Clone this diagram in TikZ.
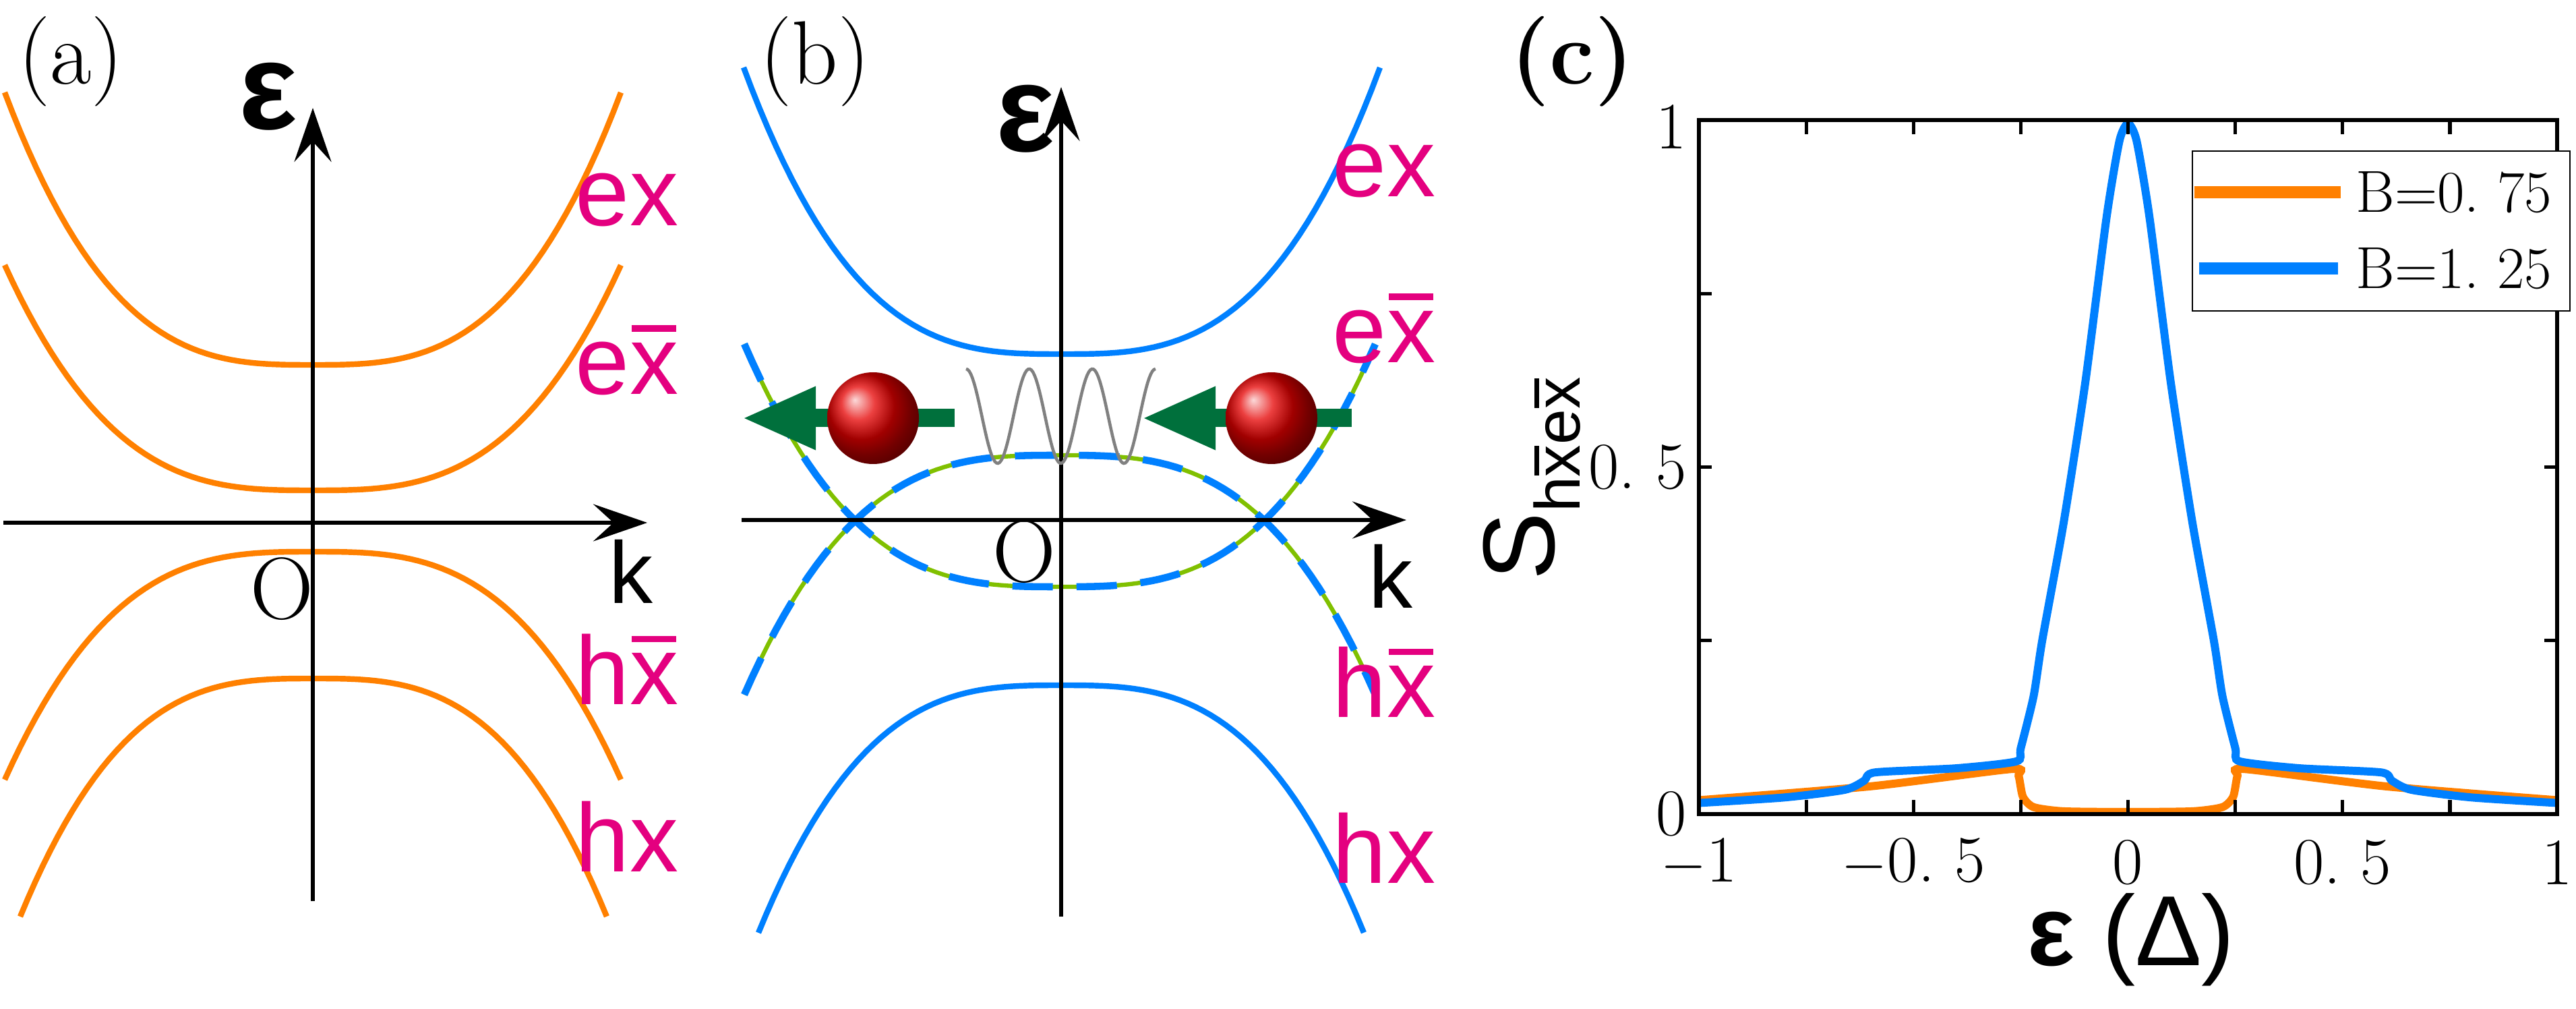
\documentclass[tikz,border=0pt]{standalone}
\usepackage{fontspec}
\usetikzlibrary{arrows.meta}
\newfontfamily\arialfont{Liberation Sans}
\definecolor{bandorange}{HTML}{FF8000}
\definecolor{bandblue}{HTML}{0080FF}
\definecolor{bandgreen}{HTML}{80C000}
\definecolor{labelpink}{HTML}{E4007F}
\definecolor{spingreen}{HTML}{00703C}
\newcommand{\xb}{\leavevmode\rlap{\kern0.02em\raisebox{0.64em}{\rule{0.46em}{0.065em}}}x}

\begin{document}
\begin{tikzpicture}[
  orangeband/.style={bandorange, line width=2.4pt},
  blueband/.style={bandblue, line width=2.4pt},
  greenband/.style={bandgreen, line width=1.8pt},
  bluedash/.style={bandblue, line width=3pt, dash pattern=on 0.6cm off 0.35cm},
  kaxis/.style={line width=1.7pt, -{Stealth[length=0.8cm, width=0.55cm, inset=0.3cm]}},
  bandlabel/.style={labelpink, font=\arialfont\fontsize{41}{44}\selectfont},
  klabel/.style={font=\arialfont\fontsize{37}{40}\selectfont},
  elabel/.style={font=\arialfont\bfseries\fontsize{52}{56}\selectfont},
  olabel/.style={font=\fontsize{37}{40}\selectfont},
  panellabel/.style={font=\fontsize{38}{42}\selectfont},
  ticklabel/.style={font=\fontsize{28}{32}\selectfont},
  legendlabel/.style={font=\fontsize{25}{30}\selectfont},
  spinarrow/.style={spingreen, line width=0.27cm, -{Triangle[length=1.1cm, width=0.86cm]}},
  spinball/.style={circle, minimum size=1.36cm, inner sep=0pt, shading=ball, ball color=red!90!black}
]
\useasboundingbox (0,0) rectangle (38.21,-14.96);

% (a)
\node[panellabel] (la) at (1.05,-0.91) {(a)};
\draw[orangeband] plot[domain=-1:1, samples=80] ({4.64+4.57*\x}, {-5.41+4.04*\x*\x*abs(\x)});
\draw[orangeband] plot[domain=-1:1, samples=80] ({4.64+4.57*\x}, {-7.27+3.34*\x*\x*abs(\x)});
\draw[orangeband] plot[domain=-1:1, samples=80] ({4.64+4.57*\x}, {-8.18-3.38*\x*\x*abs(\x)});
\draw[orangeband] plot[domain=-1:1, samples=80] ({4.65+4.35*\x}, {-10.06-3.53*\x*\x*abs(\x)});
\coordinate (a0) at (4.64,-13.36);
\coordinate (a1) at (4.64,-1.60);
\coordinate (a2) at (0.05,-7.75);
\coordinate (a3) at (9.60,-7.75);
\draw[kaxis] (a0) -- (a1);
\draw[kaxis] (a2) -- (a3);
\node[elabel] (ea) at (3.98,-1.43) {ε};
\node[klabel] (ka) at (9.36,-8.47) {k};
\node[olabel] (oa) at (4.18,-8.73) {O};
\node[bandlabel] (exa) at (9.30,-2.96) {ex};
\node[bandlabel] (exba) at (9.30,-5.34) {e\xb};
\node[bandlabel] (hxba) at (9.30,-9.92) {h\xb};
\node[bandlabel] (hxa) at (9.30,-12.40) {hx};

% (b)
\node[panellabel] (lb) at (12.09,-0.91) {(b)};
\draw[blueband] plot[domain=-1:1, samples=80] ({15.75+4.72*\x}, {-5.25+4.25*\x*\x*abs(\x)});
\draw[blueband] plot[domain=-1:1, samples=80] ({15.74+4.49*\x}, {-10.16-3.67*\x*\x*abs(\x)});
\draw[greenband] plot[domain=-1:1, samples=80] ({15.72+4.68*\x}, {-8.70+3.60*\x*\x*abs(\x)});
\draw[greenband] plot[domain=-1:1, samples=80] ({15.72+4.68*\x}, {-6.75-3.55*\x*\x*abs(\x)});
\draw[bluedash] plot[domain=-1:1, samples=80] ({15.72+4.68*\x}, {-8.70+3.60*\x*\x*abs(\x)});
\draw[bluedash] plot[domain=-1:1, samples=80] ({15.72+4.68*\x}, {-6.75-3.55*\x*\x*abs(\x)});
\coordinate (b0) at (15.74,-13.59);
\coordinate (b1) at (15.74,-1.29);
\coordinate (b2) at (11.00,-7.71);
\coordinate (b3) at (20.86,-7.71);
\draw[kaxis] (b0) -- (b1);
\draw[kaxis] (b2) -- (b3);
\node[elabel] (eb) at (15.21,-1.76) {ε};
\node[klabel] (kb) at (20.63,-8.54) {k};
\node[olabel] (ob) at (15.19,-8.18) {O};
\node[bandlabel] (exb) at (20.53,-2.53) {ex};
\node[bandlabel] (exbb) at (20.53,-4.87) {e\xb};
\node[bandlabel] (hxbb) at (20.53,-10.11) {h\xb};
\node[bandlabel] (hxb) at (20.53,-12.57) {hx};
% spins and their coupling
\draw[gray, line width=1.3pt] plot[domain=0:3, samples=120] ({14.33+2.81*\x/3}, {-6.17+0.70*cos(360*\x)});
\coordinate (s1t) at (14.16,-6.20);
\coordinate (s1h) at (11.00,-6.20);
\coordinate (s2t) at (20.05,-6.20);
\coordinate (s2h) at (16.93,-6.20);
\draw[spinarrow] (s1t) -- (s1h);
\draw[spinarrow] (s2t) -- (s2h);
\node[spinball] (ball1) at (12.95,-6.20) {};
\node[spinball] (ball2) at (18.86,-6.20) {};

% (c)
\node[panellabel] (lc) at (23.32,-0.91) {\bfseries(c)};
\begin{scope}[shift={(31.565,-12.07)}, x=6.365cm, y=10.29cm]
\draw[orangeband, line width=3.4pt] plot[smooth, tension=0.4] coordinates {(-1,0.02) (-0.6,0.04) (-0.27,0.065) (-0.255,0.055) (-0.245,0.025) (-0.22,0.01) (-0.15,0.004) (0,0.003) (0.15,0.004) (0.22,0.01) (0.245,0.025) (0.255,0.055) (0.27,0.065) (0.6,0.04) (1,0.02)};
\draw[blueband, line width=3.4pt] plot[smooth, tension=0.4] coordinates {(-1,0.016) (-0.8,0.024) (-0.66,0.035) (-0.615,0.048) (-0.59,0.06) (-0.4,0.066) (-0.26,0.076) (-0.25,0.095) (-0.22,0.17) (-0.2,0.25) (-0.15,0.42) (-0.1,0.62) (-0.05,0.86) (-0.02,0.97) (0,0.995) (0.02,0.97) (0.05,0.86) (0.1,0.62) (0.15,0.42) (0.2,0.25) (0.22,0.17) (0.25,0.095) (0.26,0.076) (0.4,0.066) (0.59,0.06) (0.615,0.048) (0.66,0.035) (0.8,0.024) (1,0.016)};
\draw[line width=1.6pt] (-1,0) rectangle (1,1);
\foreach \t in {-0.75,-0.5,...,0.76} {
  \draw[line width=1.5pt] (\t,0) -- ++(0,0.02);
  \draw[line width=1.5pt] (\t,1) -- ++(0,-0.02);
}
\foreach \t in {0.25,0.5,0.75} {
  \draw[line width=1.5pt] (-1,\t) -- ++(0.03,0);
  \draw[line width=1.5pt] (1,\t) -- ++(-0.03,0);
}
\node[ticklabel, anchor=east] (y0) at (-1.01,0) {0};
\node[ticklabel, anchor=east] (y5) at (-1.01,0.5) {0.\ 5};
\node[ticklabel, anchor=east] (y1) at (-1.01,0.99) {1};
\node[ticklabel] (xm1) at (-1,-0.07) {$-$1};
\node[ticklabel] (xm5) at (-0.5,-0.07) {$-$0.\ 5};
\node[ticklabel] (x0) at (0,-0.07) {0};
\node[ticklabel] (x5) at (0.5,-0.07) {0.\ 5};
\node[ticklabel] (x1) at (1,-0.07) {1};
% legend
\draw[line width=0.6pt, fill=white] (0.15,0.955) rectangle (1.03,0.725);
\coordinate (g1a) at (0.155,0.896);
\coordinate (g1b) at (0.495,0.896);
\coordinate (g2a) at (0.165,0.786);
\coordinate (g2b) at (0.49,0.786);
\draw[orangeband, line width=5pt] (g1a) -- (g1b);
\draw[blueband, line width=5pt] (g2a) -- (g2b);
\node[legendlabel, anchor=west, inner sep=0pt] (lg1) at (0.53,0.896) {B=0.\ 75};
\node[legendlabel, anchor=west, inner sep=0pt] (lg2) at (0.53,0.786) {B=1.\ 25};
\end{scope}
\node[font=\arialfont\fontsize{42}{46}\selectfont] (xlab) at (31.61,-13.93) {\textbf{ε} (Δ)};
\node[rotate=90, font=\arialfont] (ylab) at (22.72,-7.10) {{\fontsize{43}{48}\selectfont S}{\fontsize{27}{30}\selectfont\raisebox{-0.4em}{h\xb e\xb}}};
\end{tikzpicture}
\end{document}
